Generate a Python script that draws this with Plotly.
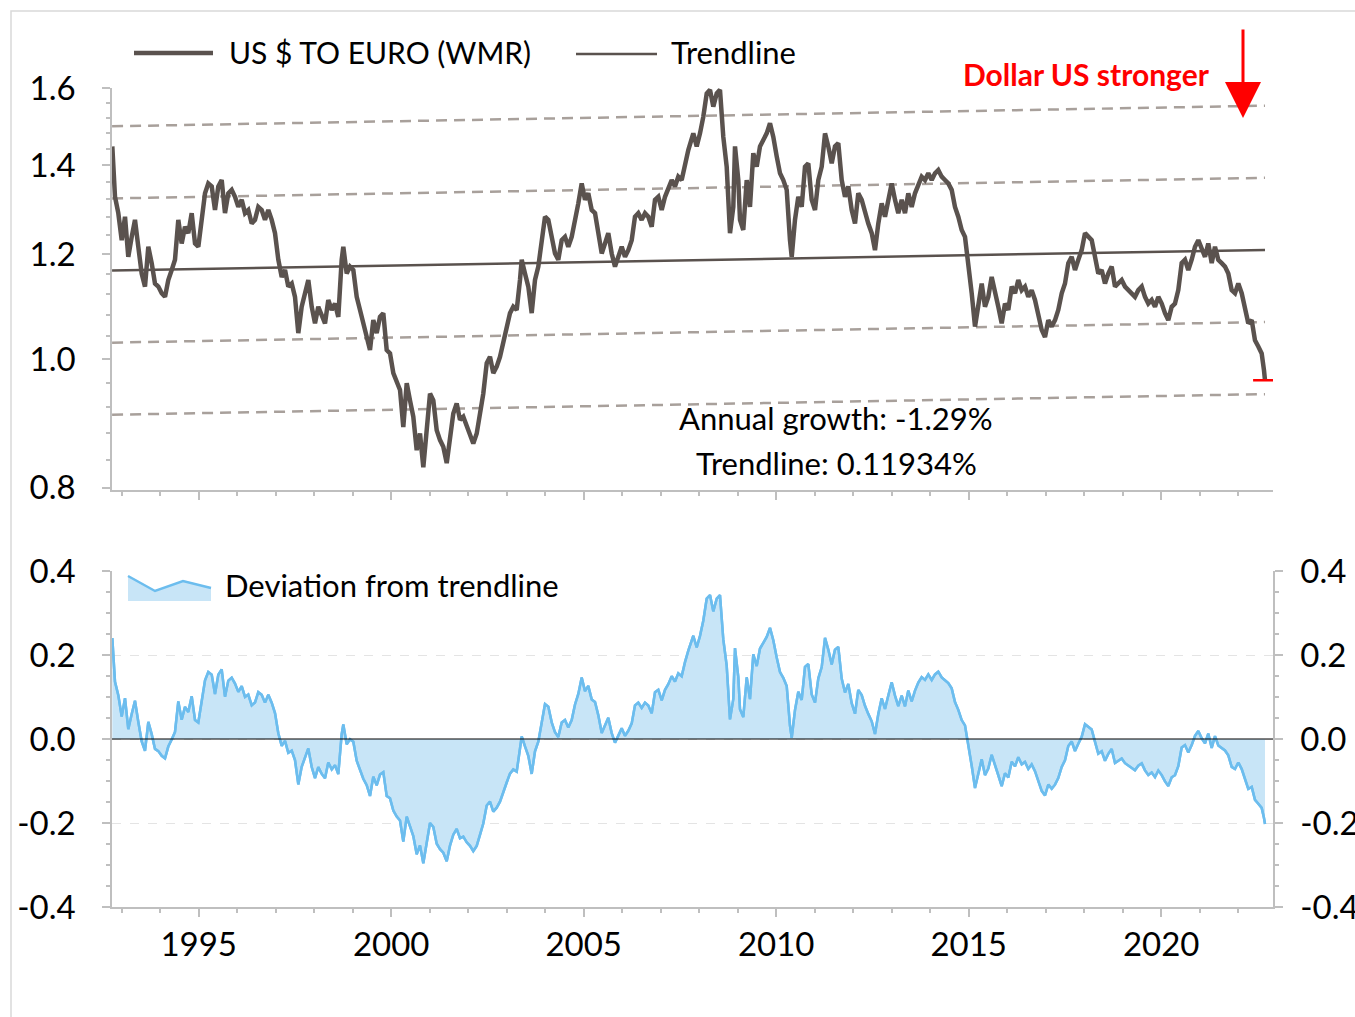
import numpy as np
import plotly.graph_objects as go

# ---------------- data ----------------
YEARS = [
    1992.756, 1992.826, 1992.912, 1993.000, 1993.086, 1993.171, 1993.260, 1993.345, 1993.431, 1993.519,
    1993.605, 1993.691, 1993.779, 1993.865, 1993.951, 1994.039, 1994.125, 1994.210, 1994.299, 1994.384,
    1994.470, 1994.558, 1994.644, 1994.730, 1994.818, 1994.904, 1994.990, 1995.078, 1995.164, 1995.249,
    1995.338, 1995.423, 1995.509, 1995.597, 1995.683, 1995.769, 1995.857, 1995.943, 1996.029, 1996.117,
    1996.203, 1996.288, 1996.377, 1996.462, 1996.548, 1996.636, 1996.722, 1996.808, 1996.896, 1996.982,
    1997.068, 1997.156, 1997.242, 1997.327, 1997.416, 1997.501, 1997.587, 1997.675, 1997.761, 1997.847,
    1997.935, 1998.021, 1998.106, 1998.195, 1998.281, 1998.366, 1998.455, 1998.540, 1998.626, 1998.714,
    1998.756, 1998.844, 1998.930, 1999.016, 1999.104, 1999.190, 1999.275, 1999.364, 1999.449, 1999.535,
    1999.623, 1999.709, 1999.795, 1999.883, 1999.969, 2000.055, 2000.143, 2000.229, 2000.314, 2000.403,
    2000.488, 2000.574, 2000.662, 2000.748, 2000.834, 2000.922, 2001.008, 2001.094, 2001.182, 2001.268,
    2001.353, 2001.442, 2001.527, 2001.613, 2001.701, 2001.787, 2001.873, 2001.961, 2002.047, 2002.132,
    2002.221, 2002.306, 2002.392, 2002.481, 2002.566, 2002.652, 2002.740, 2002.826, 2002.912, 2003.000,
    2003.086, 2003.171, 2003.260, 2003.345, 2003.390, 2003.475, 2003.561, 2003.649, 2003.735, 2003.821,
    2003.909, 2003.995, 2004.081, 2004.169, 2004.255, 2004.340, 2004.429, 2004.514, 2004.600, 2004.688,
    2004.774, 2004.860, 2004.948, 2005.034, 2005.119, 2005.208, 2005.294, 2005.379, 2005.468, 2005.553,
    2005.639, 2005.727, 2005.813, 2005.899, 2005.987, 2006.073, 2006.158, 2006.247, 2006.332, 2006.418,
    2006.506, 2006.592, 2006.678, 2006.766, 2006.852, 2006.938, 2007.026, 2007.112, 2007.197, 2007.286,
    2007.371, 2007.457, 2007.545, 2007.631, 2007.717, 2007.847, 2007.935, 2008.021, 2008.106, 2008.195,
    2008.281, 2008.366, 2008.455, 2008.540, 2008.584, 2008.626, 2008.714, 2008.800, 2008.886, 2008.930,
    2009.016, 2009.060, 2009.145, 2009.234, 2009.319, 2009.405, 2009.494, 2009.579, 2009.665, 2009.753,
    2009.839, 2009.925, 2010.013, 2010.099, 2010.184, 2010.273, 2010.358, 2010.403, 2010.488, 2010.574,
    2010.662, 2010.748, 2010.834, 2010.922, 2011.008, 2011.094, 2011.182, 2011.268, 2011.353, 2011.442,
    2011.527, 2011.613, 2011.701, 2011.787, 2011.873, 2011.961, 2012.047, 2012.132, 2012.221, 2012.306,
    2012.392, 2012.481, 2012.566, 2012.652, 2012.740, 2012.826, 2012.912, 2013.000, 2013.086, 2013.171,
    2013.260, 2013.345, 2013.431, 2013.519, 2013.605, 2013.691, 2013.779, 2013.865, 2013.951, 2014.039,
    2014.125, 2014.210, 2014.299, 2014.384, 2014.470, 2014.558, 2014.644, 2014.730, 2014.818, 2014.904,
    2014.990, 2015.078, 2015.164, 2015.249, 2015.338, 2015.423, 2015.509, 2015.597, 2015.683, 2015.769,
    2015.857, 2015.943, 2016.029, 2016.117, 2016.203, 2016.288, 2016.377, 2016.462, 2016.548, 2016.636,
    2016.722, 2016.808, 2016.896, 2016.982, 2017.068, 2017.156, 2017.242, 2017.327, 2017.416, 2017.501,
    2017.587, 2017.675, 2017.761, 2017.847, 2017.935, 2018.021, 2018.106, 2018.195, 2018.281, 2018.366,
    2018.455, 2018.540, 2018.626, 2018.714, 2018.800, 2018.886, 2018.974, 2019.060, 2019.145, 2019.234,
    2019.319, 2019.405, 2019.494, 2019.579, 2019.665, 2019.753, 2019.839, 2019.925, 2020.013, 2020.099,
    2020.184, 2020.273, 2020.358, 2020.444, 2020.532, 2020.618, 2020.704, 2020.792, 2020.878, 2020.964,
    2021.052, 2021.138, 2021.223, 2021.312, 2021.397, 2021.483, 2021.571, 2021.657, 2021.743, 2021.831,
    2021.917, 2022.003, 2022.091, 2022.177, 2022.262, 2022.351, 2022.436, 2022.522, 2022.610, 2022.670,
    2022.696,
]

EUR_USD = [
    1.446, 1.325, 1.288, 1.229, 1.280, 1.194, 1.236, 1.273, 1.215, 1.160,
    1.134, 1.215, 1.181, 1.140, 1.134, 1.121, 1.114, 1.147, 1.167, 1.188,
    1.273, 1.222, 1.258, 1.244, 1.288, 1.222, 1.215, 1.273, 1.333, 1.356,
    1.349, 1.295, 1.349, 1.364, 1.288, 1.333, 1.341, 1.325, 1.302, 1.318,
    1.288, 1.295, 1.265, 1.273, 1.302, 1.295, 1.273, 1.295, 1.273, 1.244,
    1.188, 1.153, 1.167, 1.134, 1.140, 1.114, 1.046, 1.095, 1.121, 1.147,
    1.095, 1.064, 1.095, 1.076, 1.064, 1.108, 1.089, 1.101, 1.076, 1.188,
    1.215, 1.160, 1.174, 1.167, 1.114, 1.089, 1.064, 1.046, 1.016, 1.070,
    1.046, 1.076, 1.083, 1.016, 1.010, 0.976, 0.959, 0.948, 0.889, 0.959,
    0.931, 0.905, 0.854, 0.879, 0.829, 0.889, 0.942, 0.931, 0.884, 0.869,
    0.859, 0.835, 0.879, 0.910, 0.926, 0.900, 0.905, 0.889, 0.879, 0.864,
    0.879, 0.910, 0.942, 0.993, 1.004, 0.976, 0.987, 1.004, 1.028, 1.058,
    1.083, 1.095, 1.089, 1.147, 1.188, 1.160, 1.134, 1.083, 1.147, 1.174,
    1.229, 1.280, 1.273, 1.229, 1.201, 1.188, 1.229, 1.236, 1.215, 1.236,
    1.280, 1.310, 1.356, 1.318, 1.333, 1.295, 1.288, 1.251, 1.201, 1.222,
    1.244, 1.201, 1.174, 1.194, 1.215, 1.194, 1.208, 1.229, 1.280, 1.288,
    1.273, 1.288, 1.280, 1.258, 1.318, 1.325, 1.295, 1.325, 1.341, 1.364,
    1.349, 1.372, 1.364, 1.404, 1.437, 1.479, 1.446, 1.479, 1.522, 1.585,
    1.595, 1.549, 1.585, 1.595, 1.532, 1.470, 1.396, 1.244, 1.302, 1.446,
    1.364, 1.273, 1.251, 1.364, 1.302, 1.429, 1.396, 1.446, 1.462, 1.479,
    1.505, 1.470, 1.421, 1.380, 1.364, 1.341, 1.229, 1.194, 1.273, 1.325,
    1.302, 1.396, 1.404, 1.318, 1.295, 1.364, 1.396, 1.479, 1.446, 1.404,
    1.446, 1.454, 1.364, 1.325, 1.349, 1.295, 1.265, 1.333, 1.318, 1.288,
    1.265, 1.244, 1.208, 1.265, 1.310, 1.280, 1.318, 1.356, 1.318, 1.288,
    1.318, 1.288, 1.333, 1.302, 1.333, 1.356, 1.372, 1.364, 1.380, 1.364,
    1.380, 1.388, 1.372, 1.364, 1.356, 1.341, 1.302, 1.280, 1.251, 1.236,
    1.185, 1.121, 1.058, 1.101, 1.140, 1.095, 1.114, 1.153, 1.127, 1.095,
    1.064, 1.101, 1.089, 1.134, 1.121, 1.147, 1.127, 1.134, 1.114, 1.127,
    1.108, 1.083, 1.052, 1.039, 1.070, 1.058, 1.070, 1.089, 1.121, 1.140,
    1.181, 1.194, 1.167, 1.188, 1.208, 1.244, 1.236, 1.229, 1.194, 1.160,
    1.167, 1.140, 1.160, 1.174, 1.134, 1.140, 1.147, 1.134, 1.127, 1.121,
    1.114, 1.127, 1.134, 1.114, 1.101, 1.108, 1.095, 1.114, 1.101, 1.083,
    1.070, 1.095, 1.101, 1.127, 1.181, 1.188, 1.167, 1.188, 1.215, 1.229,
    1.208, 1.194, 1.222, 1.181, 1.215, 1.188, 1.181, 1.174, 1.160, 1.127,
    1.121, 1.140, 1.121, 1.089, 1.064, 1.070, 1.033, 1.022, 1.010, 0.981,
    0.964,
]

TREND_START_YEAR = 1992.75
TREND_START_VALUE = 1.166        # trendline level at the start
TREND_GROWTH_PCT = 0.11934       # annual trendline growth (%), as printed on the chart
ANNUAL_GROWTH_LABEL = "Annual growth: -1.29%"
TREND_LABEL = "Trendline: 0.11934%"
BAND_LOG_OFFSETS = [-0.25, -0.125, 0.125, 0.25]   # dashed channel lines around the trend

TOP_TICKS = [0.8, 1.0, 1.2, 1.4, 1.6]
TOP_TICKTEXT = ["0.8", "1.0", "1.2", "1.4", "1.6"]
BOT_TICKS = [-0.4, -0.2, 0.0, 0.2, 0.4]
BOT_TICKTEXT = ["-0.4", "-0.2", "0.0", "0.2", "0.4"]

# ---------------- derived series ----------------
years = np.array(YEARS)
price = np.array(EUR_USD)
t_dense = np.linspace(TREND_START_YEAR, YEARS[-1], 60)
g = 1 + TREND_GROWTH_PCT / 100.0
trend_dense = TREND_START_VALUE * g ** (t_dense - TREND_START_YEAR)
trend_at_data = TREND_START_VALUE * g ** (years - TREND_START_YEAR)
deviation = price / trend_at_data - 1.0

# ---------------- layout geometry ----------------
W, H = 1355, 1017
L, R, T, B = 112, 82, 88, 110
PW, PH = W - L - R, H - T - B
def px(x):
    return (x - L) / PW
def py(y):
    return (H - B - y) / PH

FONT = "Lato"
DARK = "#5a524e"
DASHC = "#a8a09b"
BLUE = "#6cbdee"
FILLB = "#c8e5f7"
AXC = "#bfbfbf"

fig = go.Figure()

for off in BAND_LOG_OFFSETS:
    fig.add_trace(go.Scatter(x=t_dense, y=trend_dense * np.exp(off), mode="lines",
                             line=dict(color=DASHC, width=2.5, dash="11px,7px"),
                             hoverinfo="skip", showlegend=False, xaxis="x", yaxis="y"))
fig.add_trace(go.Scatter(x=t_dense, y=trend_dense, mode="lines",
                         line=dict(color=DARK, width=2.5), showlegend=False,
                         xaxis="x", yaxis="y"))
fig.add_trace(go.Scatter(x=years, y=price, mode="lines",
                         line=dict(color=DARK, width=4.5), showlegend=False,
                         xaxis="x", yaxis="y"))
fig.add_trace(go.Scatter(x=[years[-1]], y=[price[-1]], mode="markers",
                         marker=dict(symbol="line-ew", size=17,
                                     line=dict(color="#ff0000", width=2.5)),
                         showlegend=False, xaxis="x", yaxis="y"))

fig.add_trace(go.Scatter(x=years, y=deviation, mode="lines", fill="tozeroy",
                         fillcolor=FILLB, line=dict(color=BLUE, width=2.5),
                         showlegend=False, xaxis="x2", yaxis="y2"))
fig.add_trace(go.Scatter(x=years, y=deviation, mode="lines",
                         line=dict(color=BLUE, width=2.5),
                         showlegend=False, xaxis="x2", yaxis="y3"))

xr = [1992.748, 2022.904]
tickfont = dict(family=FONT, size=33, color="#000000")

common_x = dict(range=xr, showline=True, linecolor=AXC, linewidth=1.5,
                ticks="outside", tickcolor=AXC, ticklen=8, tickwidth=1.5,
                tick0=1995, dtick=5, showgrid=False, zeroline=False, automargin=False,
                minor=dict(dtick=1, tick0=1993, ticks="outside", ticklen=4,
                           tickcolor=AXC, tickwidth=1.5, showgrid=False))

minor_top = [round(0.8 + 0.04 * i, 2) for i in range(21)]

fig.update_layout(
    width=W, height=H,
    margin=dict(l=L, r=R, t=T, b=B),
    paper_bgcolor="white", plot_bgcolor="white",
    showlegend=False,
    xaxis=dict(**common_x, domain=[0, 1], anchor="y", showticklabels=False),
    yaxis=dict(type="log", domain=[py(490), 1], automargin=False,
               range=[np.log10(0.797), np.log10(1.6)], anchor="x",
               tickvals=TOP_TICKS, ticktext=TOP_TICKTEXT, tickfont=tickfont,
               showline=True, linecolor=AXC, linewidth=1.5,
               ticks="outside", tickcolor=AXC, ticklen=8, tickwidth=1.5,
               ticklabelstandoff=20, showgrid=False, zeroline=False,
               minor=dict(tickvals=minor_top, ticks="outside", ticklen=4,
                          tickcolor=AXC, tickwidth=1.5, showgrid=False)),
    xaxis2=dict(**common_x, domain=[0, 1], anchor="y2", showticklabels=True,
                tickfont=tickfont, ticklabelstandoff=0),
    yaxis2=dict(domain=[0, py(571)], range=[-0.4, 0.4], anchor="x2", automargin=False,
                tickvals=BOT_TICKS, ticktext=BOT_TICKTEXT, tickfont=tickfont,
                showline=True, linecolor=AXC, linewidth=1.5,
                ticks="outside", tickcolor=AXC, ticklen=8, tickwidth=1.5,
                ticklabelstandoff=20,
                showgrid=True, gridcolor="#e4e4e4", griddash="dash", gridwidth=1,
                zeroline=False,
                minor=dict(dtick=0.05, tick0=0, ticks="outside", ticklen=4,
                           tickcolor=AXC, tickwidth=1.5, showgrid=False)),
    yaxis3=dict(overlaying="y2", side="right", range=[-0.4, 0.4], anchor="x2",
                automargin=False,
                tickvals=BOT_TICKS, ticktext=BOT_TICKTEXT, tickfont=tickfont,
                showline=True, linecolor=AXC, linewidth=1.5,
                ticks="outside", tickcolor=AXC, ticklen=8, tickwidth=1.5,
                ticklabelstandoff=11, showgrid=False, zeroline=False,
                minor=dict(dtick=0.05, tick0=0, ticks="outside", ticklen=4,
                           tickcolor=AXC, tickwidth=1.5, showgrid=False)),
)

shapes = []
shapes.append(dict(type="rect", xref="paper", yref="paper",
                   x0=px(11), x1=px(1420), y0=py(1080), y1=py(11),
                   line=dict(color="#d9d9d9", width=1.5), fillcolor="rgba(0,0,0,0)",
                   layer="below"))
shapes.append(dict(type="line", xref="x2 domain", yref="y2", x0=0, x1=1, y0=0, y1=0,
                   line=dict(color="#000000", width=1.2), layer="above"))
shapes.append(dict(type="line", xref="paper", yref="paper", x0=px(134), x1=px(213),
                   y0=py(53), y1=py(53), line=dict(color=DARK, width=4.5)))
shapes.append(dict(type="line", xref="paper", yref="paper", x0=px(576), x1=px(657),
                   y0=py(54), y1=py(54), line=dict(color=DARK, width=2.5)))
pts = [(128, 576), (155, 591), (183, 581), (211, 588)]
path = "M {} {} ".format(px(128), py(601))
for (a, b) in pts:
    path += "L {} {} ".format(px(a), py(b))
path += "L {} {} Z".format(px(211), py(601))
shapes.append(dict(type="path", xref="paper", yref="paper", path=path,
                   fillcolor=FILLB, line=dict(width=0)))
lpath = "M " + " L ".join("{} {}".format(px(a), py(b)) for a, b in pts)
shapes.append(dict(type="path", xref="paper", yref="paper", path=lpath,
                   line=dict(color=BLUE, width=2.5)))
fig.update_layout(shapes=shapes)

def txt(x, y, s, size=31, color="#000000", anchor="left", bold=False):
    return dict(x=px(x), y=py(y), xref="paper", yref="paper",
                text=("<b>%s</b>" % s) if bold else s,
                showarrow=False, xanchor=anchor, yanchor="middle",
                font=dict(family=FONT, size=size, color=color))

ann = [
    txt(227, 52, "US $ TO EURO (WMR)", size=30),
    txt(669, 52, "Trendline", size=31),
    txt(1086, 74, "Dollar US stronger", size=30, color="#ff0000", anchor="center", bold=True),
    txt(836, 418, ANNUAL_GROWTH_LABEL, size=31, anchor="center"),
    txt(836, 463, TREND_LABEL, size=31, anchor="center"),
    txt(223, 585, "Deviation from trendline", size=31),
    dict(x=px(1243), y=py(118), xref="paper", yref="paper", ax=0, ay=-90,
         axref="pixel", ayref="pixel", showarrow=True, arrowhead=2, arrowsize=2.4,
         arrowwidth=3, arrowcolor="#ff0000", text=""),
]
fig.update_layout(annotations=ann)

fig.write_html("out.html", config={"displayModeBar": False},
               post_script="document.body.style.margin='0px';document.body.style.overflow='hidden';")
